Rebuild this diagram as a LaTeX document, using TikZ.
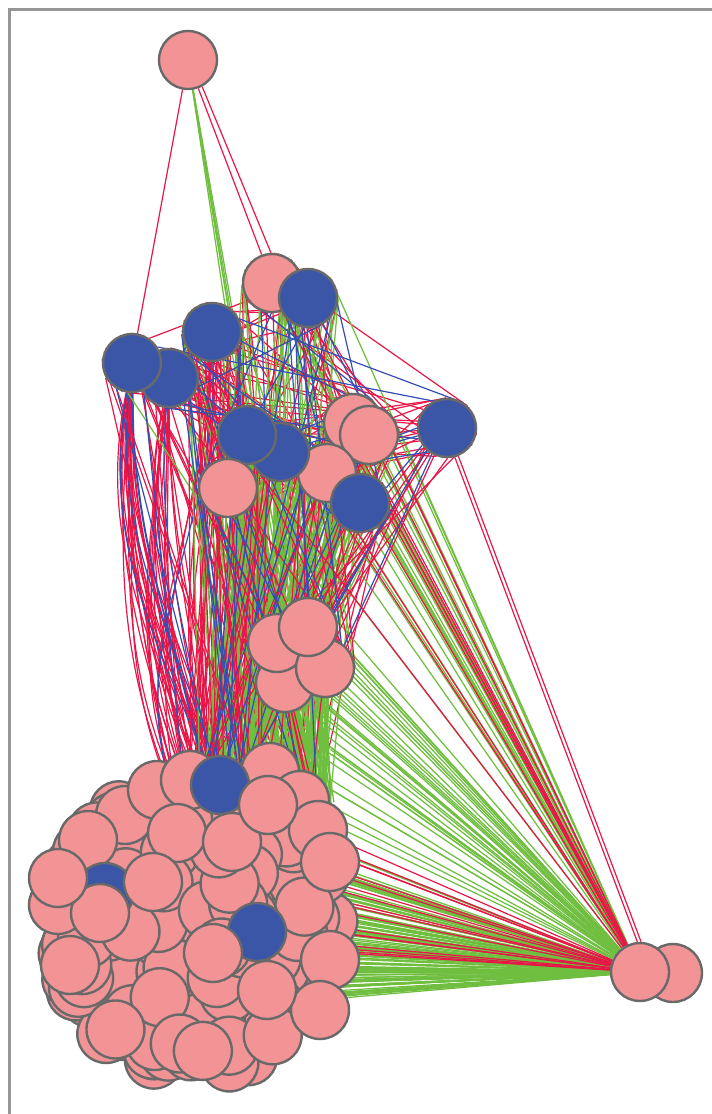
\documentclass[tikz,border=0pt]{standalone}
\pgfdeclarelayer{edgelayer}
\pgfsetlayers{edgelayer,main}

\definecolor{nodepink}{RGB}{242,148,150}
\definecolor{nodeblue}{RGB}{59,86,166}
\definecolor{nodeline}{RGB}{105,105,105}
\definecolor{egreen}{RGB}{112,190,64}
\definecolor{ered}{RGB}{232,22,72}
\definecolor{eblue}{RGB}{52,78,178}
\definecolor{framegray}{RGB}{150,150,150}

\tikzset{
  vtx/.style={circle, draw=nodeline, line width=2.4pt, minimum size=58pt, inner sep=0pt},
  pk/.style={vtx, fill=nodepink},
  bl/.style={vtx, fill=nodeblue},
  eg/.style={draw=egreen, line width=1.25pt},
  er/.style={draw=ered, line width=1.2pt},
  eb/.style={draw=eblue, line width=1.2pt},
}

\begin{document}
\begin{tikzpicture}[x=1pt,y=-1pt]
\useasboundingbox (0,0) rectangle (712,1114);
\pgfmathsetseed{4242}

% frame
\draw[framegray, line width=3pt] (9,1114) -- (9,9) -- (712,9);

% ---------- vertices ----------
\node[pk] (t) at (188,60) {};

\node[pk] (u1) at (272,283) {};
\node[bl] (u2) at (308,298) {};
\node[bl] (u3) at (212,332) {};
\node[bl] (u4) at (169,378) {};
\node[bl] (u5) at (132,363) {};
\node[pk] (u6) at (353,423) {};
\node[pk] (u7) at (369,435) {};
\node[pk] (u8) at (327,473) {};
\node[bl] (u9) at (280,452) {};
\node[bl] (u10) at (247,435) {};
\node[pk] (u11) at (228,488) {};
\node[bl] (u12) at (447,428) {};
\node[bl] (u13) at (360,503) {};

\node[pk] (m2) at (285,683) {};
\node[pk] (m1) at (277,643) {};
\node[pk] (m3) at (325,668) {};
\node[pk] (m4) at (308,627) {};

\node[pk] (r2) at (673,973) {};
\node[pk] (r1) at (640,972) {};

% dense cluster
\foreach \i in {1,...,240}{
  \pgfmathsetmacro\ang{360*rnd}
  \pgfmathsetmacro\rr{140*sqrt(rnd)}
  \node[pk] (b\i) at ({194+\rr*cos(\ang)},{928+\rr*sin(\ang)}) {};
}
\foreach \n/\x/\y in {bt7/125/815, bt1/157/790, bt5/190/780, bt6/245/792,
                      bt2/270/772, bt3/300/800, bt4/318/830, bt8/330/862,
                      bk1/58/905, bk2/70/965, bk3/330/960, bk4/320/1010,
                      bk5/88/840}{
  \node[pk] (\n) at (\x,\y) {};
}
\node[bl] (bb1) at (220,785) {};
\foreach \n/\x/\y in {bc1/177/833, bc2/232/842, bc8/268/805}{
  \node[pk] (\n) at (\x,\y) {};
}
\node[bl] (bb2) at (105,892) {};
\foreach \n/\x/\y in {bc3/100/913, bc4/58/878, bc5/153/882}{
  \node[pk] (\n) at (\x,\y) {};
}
\node[bl] (bb3) at (257,932) {};
\foreach \n/\x/\y in {bc6/267/990, bc7/213/953}{
  \node[pk] (\n) at (\x,\y) {};
}

% ---------- connectors ----------
\begin{pgfonlayer}{edgelayer}
\pgfmathdeclarerandomlist{srcA}{{u3}{u4}{u5}{u9}{u10}{u11}{u8}{u13}{u1}{u2}{u6}{u7}{u10}{u11}{u9}{u3}{u8}}
\pgfmathdeclarerandomlist{srcG}{{u1}{u2}{u9}{u10}{u11}{u8}{u13}{u6}{u7}{u9}{u11}{u3}{u10}}
\pgfmathdeclarerandomlist{srcL}{{u5}{u4}{u3}{u5}{u4}{u5}}
\pgfmathdeclarerandomlist{srcR}{{u6}{u7}{u8}{u13}{u9}{u2}{u1}{u7}{u13}{u8}}

% top vertex
\draw[er] (t) -- (u5);
\draw[er] (t.-70) -- (u1.110);
\draw[er] (t.-62) -- (u1.92);
\foreach \i/\x/\y in {1/302/815, 2/312/825, 3/320/838, 4/328/850, 5/316/845}{
  \coordinate (tg\i) at (\x,\y);
  \draw[eg] (t) -- (tg\i);
}

% fan into the lower cluster
\foreach \i in {1,...,150}{
  \pgfmathsetmacro\fx{215+90*rnd}
  \pgfmathsetmacro\fy{1002-172*rnd^1.5}
  \coordinate (f\i) at (\fx,\fy);
  \draw[eg] (r1) -- (f\i);
}
\foreach \i in {1,...,18}{
  \pgfmathsetmacro\fx{260+60*rnd}
  \pgfmathsetmacro\fy{830+120*rnd}
  \coordinate (fr\i) at (\fx,\fy);
  \draw[er] (r1) -- (fr\i);
}

% red edges of the upper group
\foreach \i in {1,...,100}{
  \pgfmathrandominteger{\p}{1}{13}
  \pgfmathrandominteger{\q}{1}{13}
  \pgfmathrandominteger{\a}{0}{359}
  \pgfmathrandominteger{\b}{0}{359}
  \draw[er] (u\p.\a) -- (u\q.\b);
}
% upper group -> lower cluster, red
\foreach \i in {1,...,80}{
  \pgfmathrandomitem{\s}{srcA}
  \pgfmathrandominteger{\a}{0}{359}
  \pgfmathsetmacro\tx{180+140*rnd}
  \pgfmathsetmacro\ty{805+20*rnd}
  \coordinate (ra\i) at (\tx,\ty);
  \draw[er] (\s.\a) -- (ra\i);
}
% curved edges down the left side
\foreach \i in {1,...,38}{
  \pgfmathrandomitem{\s}{srcL}
  \pgfmathsetmacro\oa{258+14*rnd}
  \pgfmathsetmacro\ia{97+20*rnd}
  \pgfmathsetmacro\tx{178+55*rnd}
  \pgfmathsetmacro\ty{800+20*rnd}
  \coordinate (rl\i) at (\tx,\ty);
  \draw[er] (\s) to[out=\oa, in=\ia] (rl\i);
}
\foreach \i in {1,...,6}{
  \pgfmathrandomitem{\s}{srcL}
  \pgfmathsetmacro\oa{260+12*rnd}
  \pgfmathsetmacro\ia{97+18*rnd}
  \pgfmathsetmacro\tx{178+50*rnd}
  \pgfmathsetmacro\ty{800+20*rnd}
  \coordinate (bl\i) at (\tx,\ty);
  \draw[eb] (\s) to[out=\oa, in=\ia] (bl\i);
}

% upper group -> lower cluster, green
\foreach \i in {1,...,170}{
  \pgfmathrandomitem{\s}{srcG}
  \pgfmathrandominteger{\a}{0}{359}
  \pgfmathsetmacro\tx{195+135*rnd}
  \pgfmathsetmacro\ty{805+20*rnd}
  \coordinate (ga\i) at (\tx,\ty);
  \draw[eg] (\s.\a) -- (ga\i);
}
% middle group -> lower cluster
\foreach \i in {1,...,50}{
  \pgfmathrandominteger{\k}{1}{4}
  \pgfmathsetmacro\tx{292+42*rnd}
  \pgfmathsetmacro\ty{790+50*rnd}
  \coordinate (gm\i) at (\tx,\ty);
  \draw[eg] (m\k) -- (gm\i);
}
% right vertex -> middle column
\foreach \i in {1,...,15}{
  \pgfmathsetmacro\tx{318+14*rnd}
  \pgfmathsetmacro\ty{700+130*rnd}
  \coordinate (gc\i) at (\tx,\ty);
  \draw[eg] (r1) -- (gc\i);
}
\foreach \i in {1,...,20}{
  \pgfmathrandominteger{\k}{1}{4}
  \pgfmathrandominteger{\a}{0}{359}
  \draw[eg] (m\k.\a) -- (r1);
}
\foreach \i in {1,...,30}{
  \pgfmathrandomitem{\s}{srcR}
  \pgfmathrandominteger{\a}{0}{359}
  \draw[eg] (\s.\a) -- (r1);
}
\foreach \i in {1,...,15}{
  \pgfmathrandominteger{\p}{1}{13}
  \pgfmathrandominteger{\k}{1}{4}
  \pgfmathrandominteger{\a}{0}{359}
  \pgfmathrandominteger{\b}{0}{359}
  \draw[eg] (u\p.\a) -- (m\k.\b);
}

% more red edges
\foreach \i in {1,...,25}{
  \pgfmathrandominteger{\p}{1}{13}
  \pgfmathrandominteger{\k}{1}{4}
  \pgfmathrandominteger{\a}{0}{359}
  \pgfmathrandominteger{\b}{0}{359}
  \draw[er] (u\p.\a) -- (m\k.\b);
}
\foreach \i in {1,...,30}{
  \pgfmathrandomitem{\s}{srcA}
  \pgfmathrandominteger{\a}{0}{359}
  \pgfmathsetmacro\tx{180+100*rnd}
  \pgfmathsetmacro\ty{805+20*rnd}
  \coordinate (rb\i) at (\tx,\ty);
  \draw[er] (\s.\a) -- (rb\i);
}
\foreach \i in {1,...,6}{
  \pgfmathrandominteger{\k}{1}{4}
  \pgfmathsetmacro\tx{300+30*rnd}
  \pgfmathsetmacro\ty{800+40*rnd}
  \coordinate (rm\i) at (\tx,\ty);
  \draw[er] (m\k) -- (rm\i);
}
\foreach \i in {1,...,12}{
  \pgfmathrandomitem{\s}{srcR}
  \pgfmathrandominteger{\a}{0}{359}
  \draw[er] (\s.\a) -- (r1);
}
\draw[er] (u12.-75) -- (r1.95);
\draw[er] (u12.-68) -- (r1.88);
\draw[er] (u12.185) -- (u7.5);
\draw[er] (u12.190) -- (u7.-5);
\draw[er] (u12.200) -- (u8.10);
\draw[er] (u12.220) -- (u13.20);
\draw[er] (u12.235) -- (m4.40);
\draw[er] (u12.245) -- (m3.45);

% blue edges
\foreach \i in {1,...,35}{
  \pgfmathrandominteger{\p}{1}{13}
  \pgfmathrandominteger{\q}{1}{13}
  \pgfmathrandominteger{\a}{0}{359}
  \pgfmathrandominteger{\b}{0}{359}
  \draw[eb] (u\p.\a) -- (u\q.\b);
}
\foreach \i in {1,...,18}{
  \pgfmathrandomitem{\s}{srcA}
  \pgfmathrandominteger{\a}{0}{359}
  \pgfmathsetmacro\tx{180+140*rnd}
  \pgfmathsetmacro\ty{805+20*rnd}
  \coordinate (ba\i) at (\tx,\ty);
  \draw[eb] (\s.\a) -- (ba\i);
}
\foreach \i in {1,...,10}{
  \pgfmathrandominteger{\p}{1}{13}
  \pgfmathrandominteger{\k}{1}{4}
  \pgfmathrandominteger{\a}{0}{359}
  \pgfmathrandominteger{\b}{0}{359}
  \draw[eb] (u\p.\a) -- (m\k.\b);
}
\draw[eb] (u12.180) -- (u7.0);
\draw[eb] (u12.195) -- (u7.-12);
\draw[eb] (u12.228) -- (m4.35);
\draw[eb] (u12.240) -- (m3.50);
\draw[eb] (u12.215) -- (u13.30);
\end{pgfonlayer}
\end{tikzpicture}
\end{document}
